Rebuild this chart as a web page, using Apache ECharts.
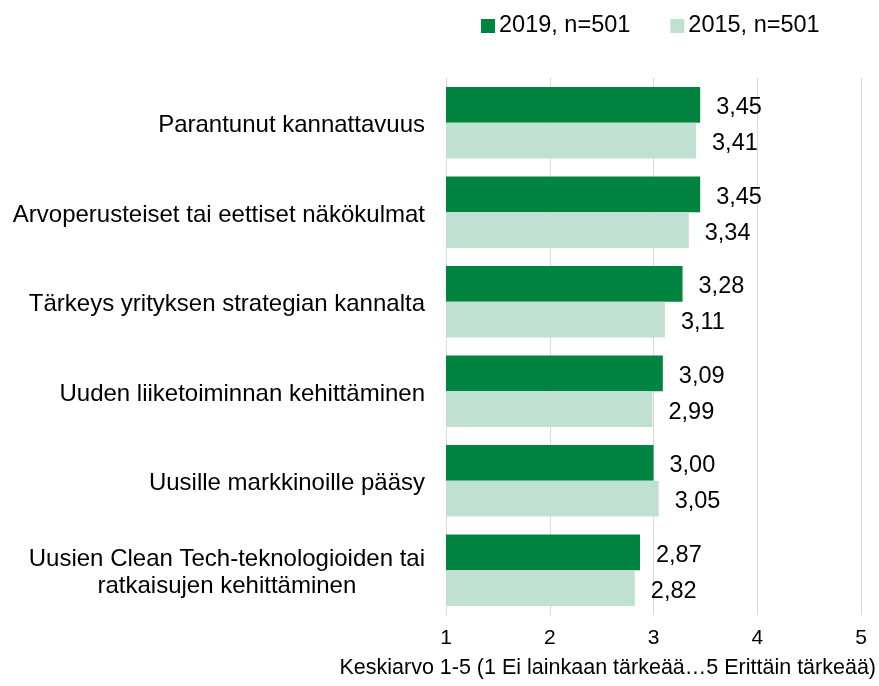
<!DOCTYPE html>
<html>
<head>
<meta charset="utf-8">
<script src="https://cdn.jsdelivr.net/npm/echarts@6/dist/echarts.min.js"></script>
<style>html,body{margin:0;padding:0;background:#fff;}#c{width:879px;height:686px;}</style>
</head>
<body>
<div id="c"></div>
<script>
const categories = [
  'Parantunut kannattavuus',
  'Arvoperusteiset tai eettiset näkökulmat',
  'Tärkeys yrityksen strategian kannalta',
  'Uuden liiketoiminnan kehittäminen',
  'Uusille markkinoille pääsy',
  'Uusien Clean Tech-teknologioiden tai\nratkaisujen kehittäminen'
];
const series2019 = [3.45, 3.45, 3.28, 3.09, 3.00, 2.87];
const series2015 = [3.41, 3.34, 3.11, 2.99, 3.05, 2.82];
const seriesNames = ['2019, n=501', '2015, n=501'];
const xTicks = [1, 2, 3, 4, 5];
const axisTitle = 'Keskiarvo 1-5 (1 Ei lainkaan tärkeää…5 Erittäin tärkeää)';

const font = 'Liberation Sans, Arial, sans-serif';
const chart = echarts.init(document.getElementById('c'));
const fmt = p => p.value.toFixed(2).replace('.', ',');
chart.setOption({
  animation: false,
  textStyle: { fontFamily: font },
  legend: {
    data: seriesNames,
    top: 9,
    left: 476,
    itemWidth: 14,
    itemHeight: 14,
    itemGap: 40,
    icon: 'rect',
    textStyle: { fontSize: 23.5, color: '#000', fontFamily: font, padding: [0, 0, 0, -1] }
  },
  grid: { left: 446, right: 18, top: 78, bottom: 71, containLabel: false },
  xAxis: {
    type: 'value',
    min: xTicks[0],
    max: xTicks[xTicks.length - 1],
    interval: 1,
    axisLine: { show: false },
    axisTick: { show: false },
    splitLine: { lineStyle: { color: '#d9d9d9', width: 1 } },
    axisLabel: { fontSize: 21, color: '#000', margin: 13, fontFamily: font },
    name: axisTitle,
    nameLocation: 'end',
    nameGap: 15,
    nameTextStyle: { fontSize: 21.5, color: '#000', align: 'right', verticalAlign: 'top', padding: [42, 0, 0, 0], fontFamily: font }
  },
  yAxis: {
    type: 'category',
    data: categories,
    inverse: true,
    axisLine: { show: false },
    axisTick: { show: false },
    axisLabel: {
      fontSize: 24,
      color: '#000',
      margin: 21,
      fontFamily: font,
      lineHeight: 27,
      padding: [6, 0, 0, 0],
      formatter: v => v.split('\n').map(s => '{c|' + s + '}').join('\n'),
      rich: { c: { fontSize: 24, align: 'center', color: '#000', fontFamily: font, lineHeight: 27 } }
    }
  },
  series: [
    {
      name: seriesNames[0], type: 'bar', data: series2019,
      itemStyle: { color: '#00843F' },
      barCategoryGap: '20%', barGap: '0%',
      label: { show: true, position: 'right', distance: 16, offset: [0, 3], formatter: fmt, fontSize: 23.5, color: '#000', fontFamily: font }
    },
    {
      name: seriesNames[1], type: 'bar', data: series2015,
      itemStyle: { color: '#C0E1D1' },
      barCategoryGap: '20%', barGap: '0%',
      label: { show: true, position: 'right', distance: 16, offset: [0, 3], formatter: fmt, fontSize: 23.5, color: '#000', fontFamily: font }
    }
  ]
});
</script>
</body>
</html>
